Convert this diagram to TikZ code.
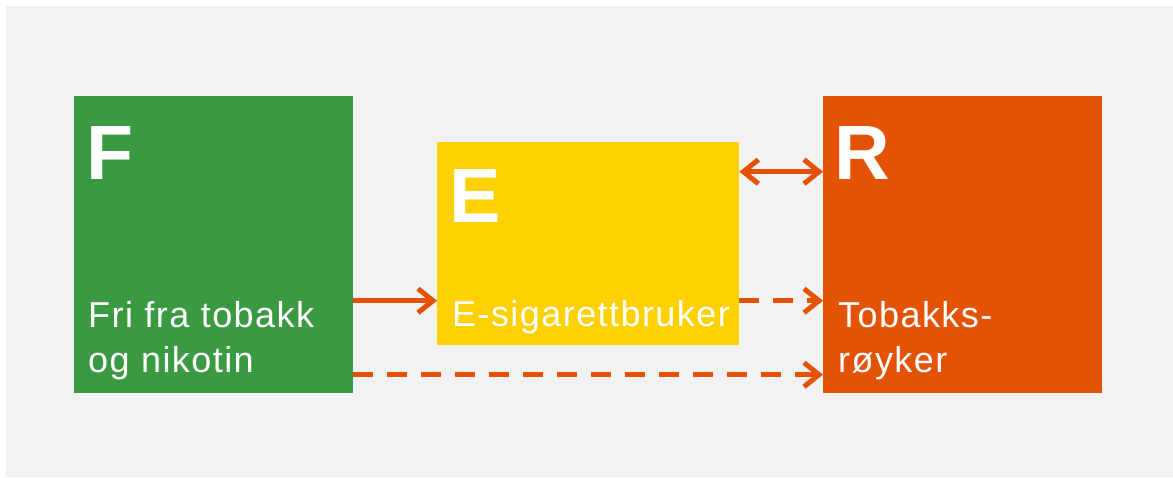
\documentclass[tikz,border=0pt]{standalone}
\usepackage{fontspec}
\setmainfont{Liberation Sans}
\newfontfamily\labelfont[LetterSpace=4]{Liberation Sans}
\usetikzlibrary{arrows.meta}
\definecolor{bggray}{HTML}{F2F2F2}
\definecolor{fgreen}{HTML}{3A9A42}
\definecolor{eyellow}{HTML}{FFD100}
\definecolor{rorange}{HTML}{E35205}
\begin{document}
\begin{tikzpicture}[x=1pt,y=1pt,
  stagebox/.style={draw=none,inner sep=0pt,anchor=north west},
  bigletter/.style={text=white,inner sep=0pt,anchor=base west,
    font=\fontsize{77}{80}\selectfont\bfseries},
  stagelabel/.style={text=white,inner sep=0pt,anchor=base west,align=left,
    font=\labelfont\fontsize{36}{46}\selectfont},
  barb/.style={Straight Barb[length=15pt,width=24pt]},
  flow/.style={draw=rorange,line width=5pt,-{Straight Barb[length=15pt,width=24pt]}},
  flowdash/.style={flow,dash pattern=on 20pt off 14pt},
  flowboth/.style={flow,{Straight Barb[length=15pt,width=24pt]}-{Straight Barb[length=15pt,width=24pt]}}]
  \useasboundingbox (0,0) rectangle (1173,477);
  % panel background
  \fill[bggray] (6,0) rectangle (1173,471);

  % stage boxes
  \node[stagebox,fill=fgreen,minimum width=279pt,minimum height=297pt] (F) at (74,381) {};
  \node[stagebox,fill=eyellow,minimum width=302pt,minimum height=203pt] (E) at (437,335) {};
  \node[stagebox,fill=rorange,minimum width=279pt,minimum height=297pt] (R) at (823,381) {};

  % stage letters
  \node[bigletter] (Fl) at (86,297) {F};
  \node[bigletter] (El) at (449,254) {E};
  \node[bigletter] (Rl) at (834,297) {R};

  % stage descriptions (two-line labels are anchored on their last line)
  \node[stagelabel] (Ft) at (88,104) {Fri fra tobakk\\og nikotin};
  \node[stagelabel] (Et) at (452,150) {E-sigarettbruker};
  \node[stagelabel] (Rt) at (838,104) {Tobakks-\\røyker};

  % transitions
  \draw[flow] ([yshift=-56pt]F.east) -- ([yshift=-56pt]F.east -| E.west);
  \draw[flowdash] ([yshift=-130pt]F.east) -- ([yshift=-130pt]F.east -| R.west);
  \draw[flowdash] ([yshift=-57pt]E.east) -- ([yshift=-57pt]E.east -| R.west);
  \draw[flowboth] ([yshift=72pt]E.east) -- ([yshift=72pt]E.east -| R.west);
\end{tikzpicture}
\end{document}
